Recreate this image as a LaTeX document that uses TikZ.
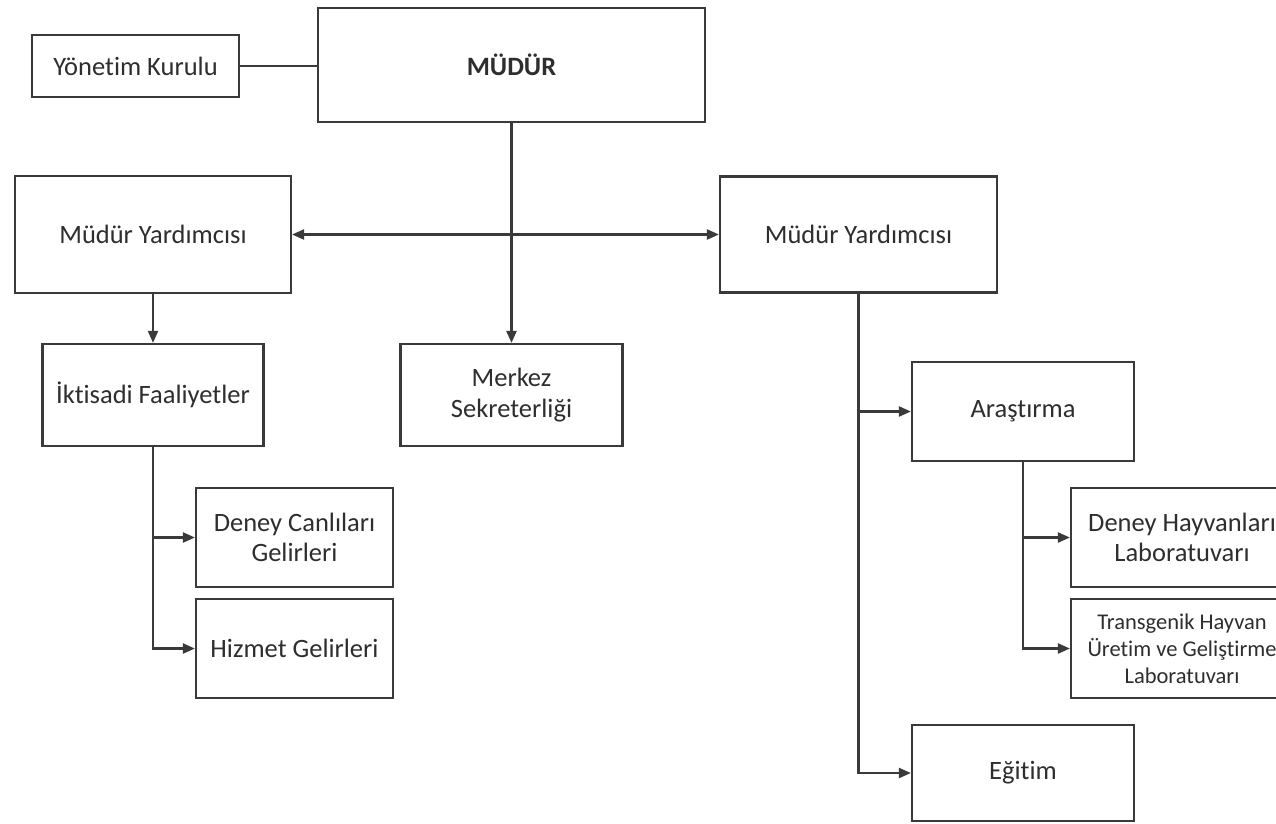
\documentclass[tikz,border=0pt]{standalone}
\usepackage{fontspec}
\setmainfont{Carlito}[Ligatures=NoCommon]
\usetikzlibrary{arrows.meta}
\definecolor{ln}{HTML}{3A3A3A}
\definecolor{tx}{HTML}{2E2E2E}
\begin{document}
\begin{tikzpicture}[x=1pt,y=-1pt,
  box/.style={draw=ln, line width=2.2pt, inner sep=0pt, align=center, text=tx,
    font=\fontsize{26.5}{30.5}\selectfont},
  small/.style={font=\fontsize{22.5}{27}\selectfont},
  link/.style={draw=ln, line width=2.1pt},
  arr/.style={link, -{Triangle[length=12pt,width=10pt]}},
  darr/.style={link, {Triangle[length=12pt,width=10pt]}-{Triangle[length=12pt,width=10pt]}}]
\path[use as bounding box, clip] (0,0) rectangle (1276,823);
\fill[white] (0,0) rectangle (1276,823);
\node[box, minimum width=207pt, minimum height=62pt] (yk) at (135.5,66) {Yönetim Kurulu};
\node[box, minimum width=387pt, minimum height=114pt, font=\fontsize{26.5}{30.5}\selectfont\bfseries] (mudur) at (511.5,65) {MÜDÜR};
\node[box, minimum width=276pt, minimum height=117pt] (myl) at (153,234.5) {Müdür Yardımcısı};
\node[box, minimum width=277pt, minimum height=116pt] (myr) at (858.5,234.5) {Müdür Yardımcısı};
\node[box, minimum width=221pt, minimum height=102pt] (ikt) at (153,395) {İktisadi Faaliyetler};
\node[box, minimum width=222pt, minimum height=102pt] (mer) at (511.5,395) {Merkez\\Sekreterliği};
\node[box, minimum width=222pt, minimum height=99pt] (ara) at (1023,411.5) {Araştırma};
\node[box, minimum width=197pt, minimum height=99pt] (dcg) at (294.5,537.5) {Deney Canlıları\\Gelirleri};
\node[box, minimum width=197pt, minimum height=99pt] (hg) at (294.5,648.5) {Hizmet Gelirleri};
\node[box, minimum width=222pt, minimum height=99pt] (dhl) at (1182,537.5) {Deney Hayvanları\\Laboratuvarı};
\node[box, small, minimum width=222pt, minimum height=99pt] (tg) at (1182,648.5) {Transgenik Hayvan\\Üretim ve Geliştirme\\Laboratuvarı};
\node[box, minimum width=222pt, minimum height=96pt] (egt) at (1023,773) {Eğitim};
\draw[link] (yk.east) -- (yk.east -| mudur.west);
\draw[arr] (mudur.south) -- (mer.north);
\draw[darr] (myl.east) -- (myr.west);
\draw[arr] (myl.south) -- (ikt.north);
\draw[arr] (ikt.south) |- (dcg.west);
\draw[arr] (ikt.south) |- (hg.west);
\draw[arr] (myr.south) |- (ara.west);
\draw[arr] (myr.south) |- (egt.west);
\draw[arr] (ara.south) |- (dhl.west);
\draw[arr] (ara.south) |- (tg.west);
\end{tikzpicture}
\end{document}
